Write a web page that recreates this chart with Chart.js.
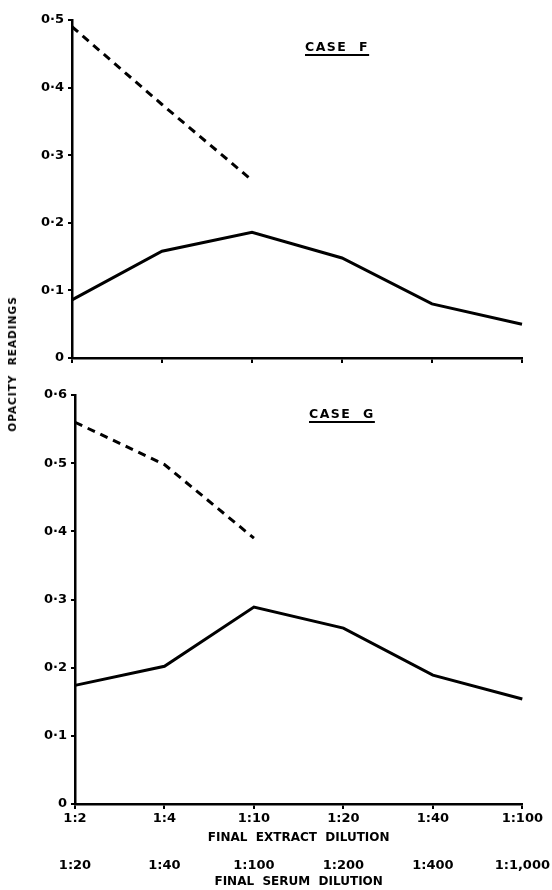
<!DOCTYPE html>
<html>
<head>
<meta charset="utf-8">
<script src="https://cdn.jsdelivr.net/npm/chart.js@4"></script>
<style>
  body { margin: 0; background: #fff; width: 552px; height: 890px; position: relative; overflow: hidden; }
  #wrapF { position: absolute; left: 0; top: 0; width: 552px; height: 370px; }
  #wrapG { position: absolute; left: 0; top: 375px; width: 552px; height: 515px; }
  .case { position: absolute; font: bold 12.5px "DejaVu Sans", sans-serif; letter-spacing: 1.5px; text-decoration: underline; text-underline-offset: 3px; text-decoration-thickness: 2px; white-space: pre; }
  #ylab { position: absolute; left: 12px; top: 364px; transform: translate(-50%, -50%) rotate(-90deg); font: bold 10.5px "DejaVu Sans", sans-serif; letter-spacing: 1px; white-space: pre; }
</style>
</head>
<body>
<div id="wrapF"><canvas id="chartF"></canvas></div>
<div id="wrapG"><canvas id="chartG"></canvas></div>
<div class="case" style="left:305px; top:39px;">CASE  F</div>
<div class="case" style="left:309px; top:406px;">CASE  G</div>
<div id="ylab">OPACITY  READINGS</div>
<script>
var extractLabels = ['1:2', '1:4', '1:10', '1:20', '1:40', '1:100'];
var serumLabels = ['1:20', '1:40', '1:100', '1:200', '1:400', '1:1,000'];

// case F
var caseF_solid = [0.086, 0.158, 0.186, 0.148, 0.080, 0.050];
var caseF_dashed = [0.49, 0.375, 0.263, null, null, null];
// case G
var caseG_solid = [0.174, 0.202, 0.289, 0.258, 0.189, 0.154];
var caseG_dashed = [0.56, 0.498, 0.39, null, null, null];

Chart.defaults.color = '#000';
Chart.defaults.font.family = '"DejaVu Sans", sans-serif';
Chart.defaults.font.weight = 'bold';

function fmt(v) {
  if (v === 0) return '0';
  return v.toFixed(1).replace('.', ' · ').replace(/ /g, '');
}

function makeDatasets(solid, dashed) {
  return [{
    data: solid,
    borderColor: '#000',
    borderWidth: 3,
    pointRadius: 0,
    fill: false,
    tension: 0
  }, {
    data: dashed,
    borderColor: '#000',
    borderWidth: 3,
    borderDash: [8, 6],
    pointRadius: 0,
    fill: false,
    tension: 0,
    spanGaps: false
  }];
}

function yScale(max, w) {
  return {
    min: 0,
    max: max,
    ticks: { stepSize: 0.1, callback: fmt, padding: 4, font: { size: 13, weight: 'bold' } },
    grid: { drawOnChartArea: false, color: '#000', tickLength: 4, lineWidth: 2 },
    border: { color: '#000', width: 2.5 },
    afterFit: function(scale) { scale.width = w; }
  };
}

var ctx = document.getElementById('chartF').getContext('2d');
var chartF = new Chart(ctx, {
  type: 'line',
  data: { labels: extractLabels, datasets: makeDatasets(caseF_solid, caseF_dashed) },
  options: {
    responsive: true,
    maintainAspectRatio: false,
    animation: false,
    layout: { padding: { top: 20, right: 30, left: 0, bottom: 0 } },
    plugins: { legend: { display: false }, tooltip: { enabled: false } },
    scales: {
      x: {
        ticks: { display: false },
        grid: { drawOnChartArea: false, color: '#000', tickLength: 5, lineWidth: 2 },
        border: { color: '#000', width: 2.5 },
        afterFit: function(scale) { scale.height = 12; }
      },
      y: yScale(0.5, 72)
    }
  }
});

var ctx = document.getElementById('chartG').getContext('2d');
var chartG = new Chart(ctx, {
  type: 'line',
  data: { labels: extractLabels, datasets: makeDatasets(caseG_solid, caseG_dashed) },
  options: {
    responsive: true,
    maintainAspectRatio: false,
    animation: false,
    layout: { padding: { top: 20, right: 28, left: 0, bottom: 0 } },
    plugins: { legend: { display: false }, tooltip: { enabled: false } },
    scales: {
      x: {
        ticks: { padding: 2, maxRotation: 0, autoSkip: false, font: { size: 13, weight: 'bold' } },
        grid: { drawOnChartArea: false, color: '#000', tickLength: 5, lineWidth: 2 },
        border: { color: '#000', width: 2.5 },
        title: { display: true, text: 'FINAL  EXTRACT  DILUTION', font: { size: 12, weight: 'bold' }, padding: { top: 0, bottom: 3 } },
        afterFit: function(scale) { scale.height = 44; }
      },
      x2: {
        type: 'category',
        position: 'bottom',
        labels: serumLabels,
        ticks: { padding: 2, maxRotation: 0, autoSkip: false, font: { size: 13, weight: 'bold' } },
        grid: { display: false },
        border: { display: false },
        title: { display: true, text: 'FINAL  SERUM  DILUTION', font: { size: 12, weight: 'bold' }, padding: { top: 0, bottom: 1 } },
        afterFit: function(scale) { scale.height = 42; }
      },
      y: yScale(0.6, 75)
    }
  }
});
</script>
</body>
</html>
